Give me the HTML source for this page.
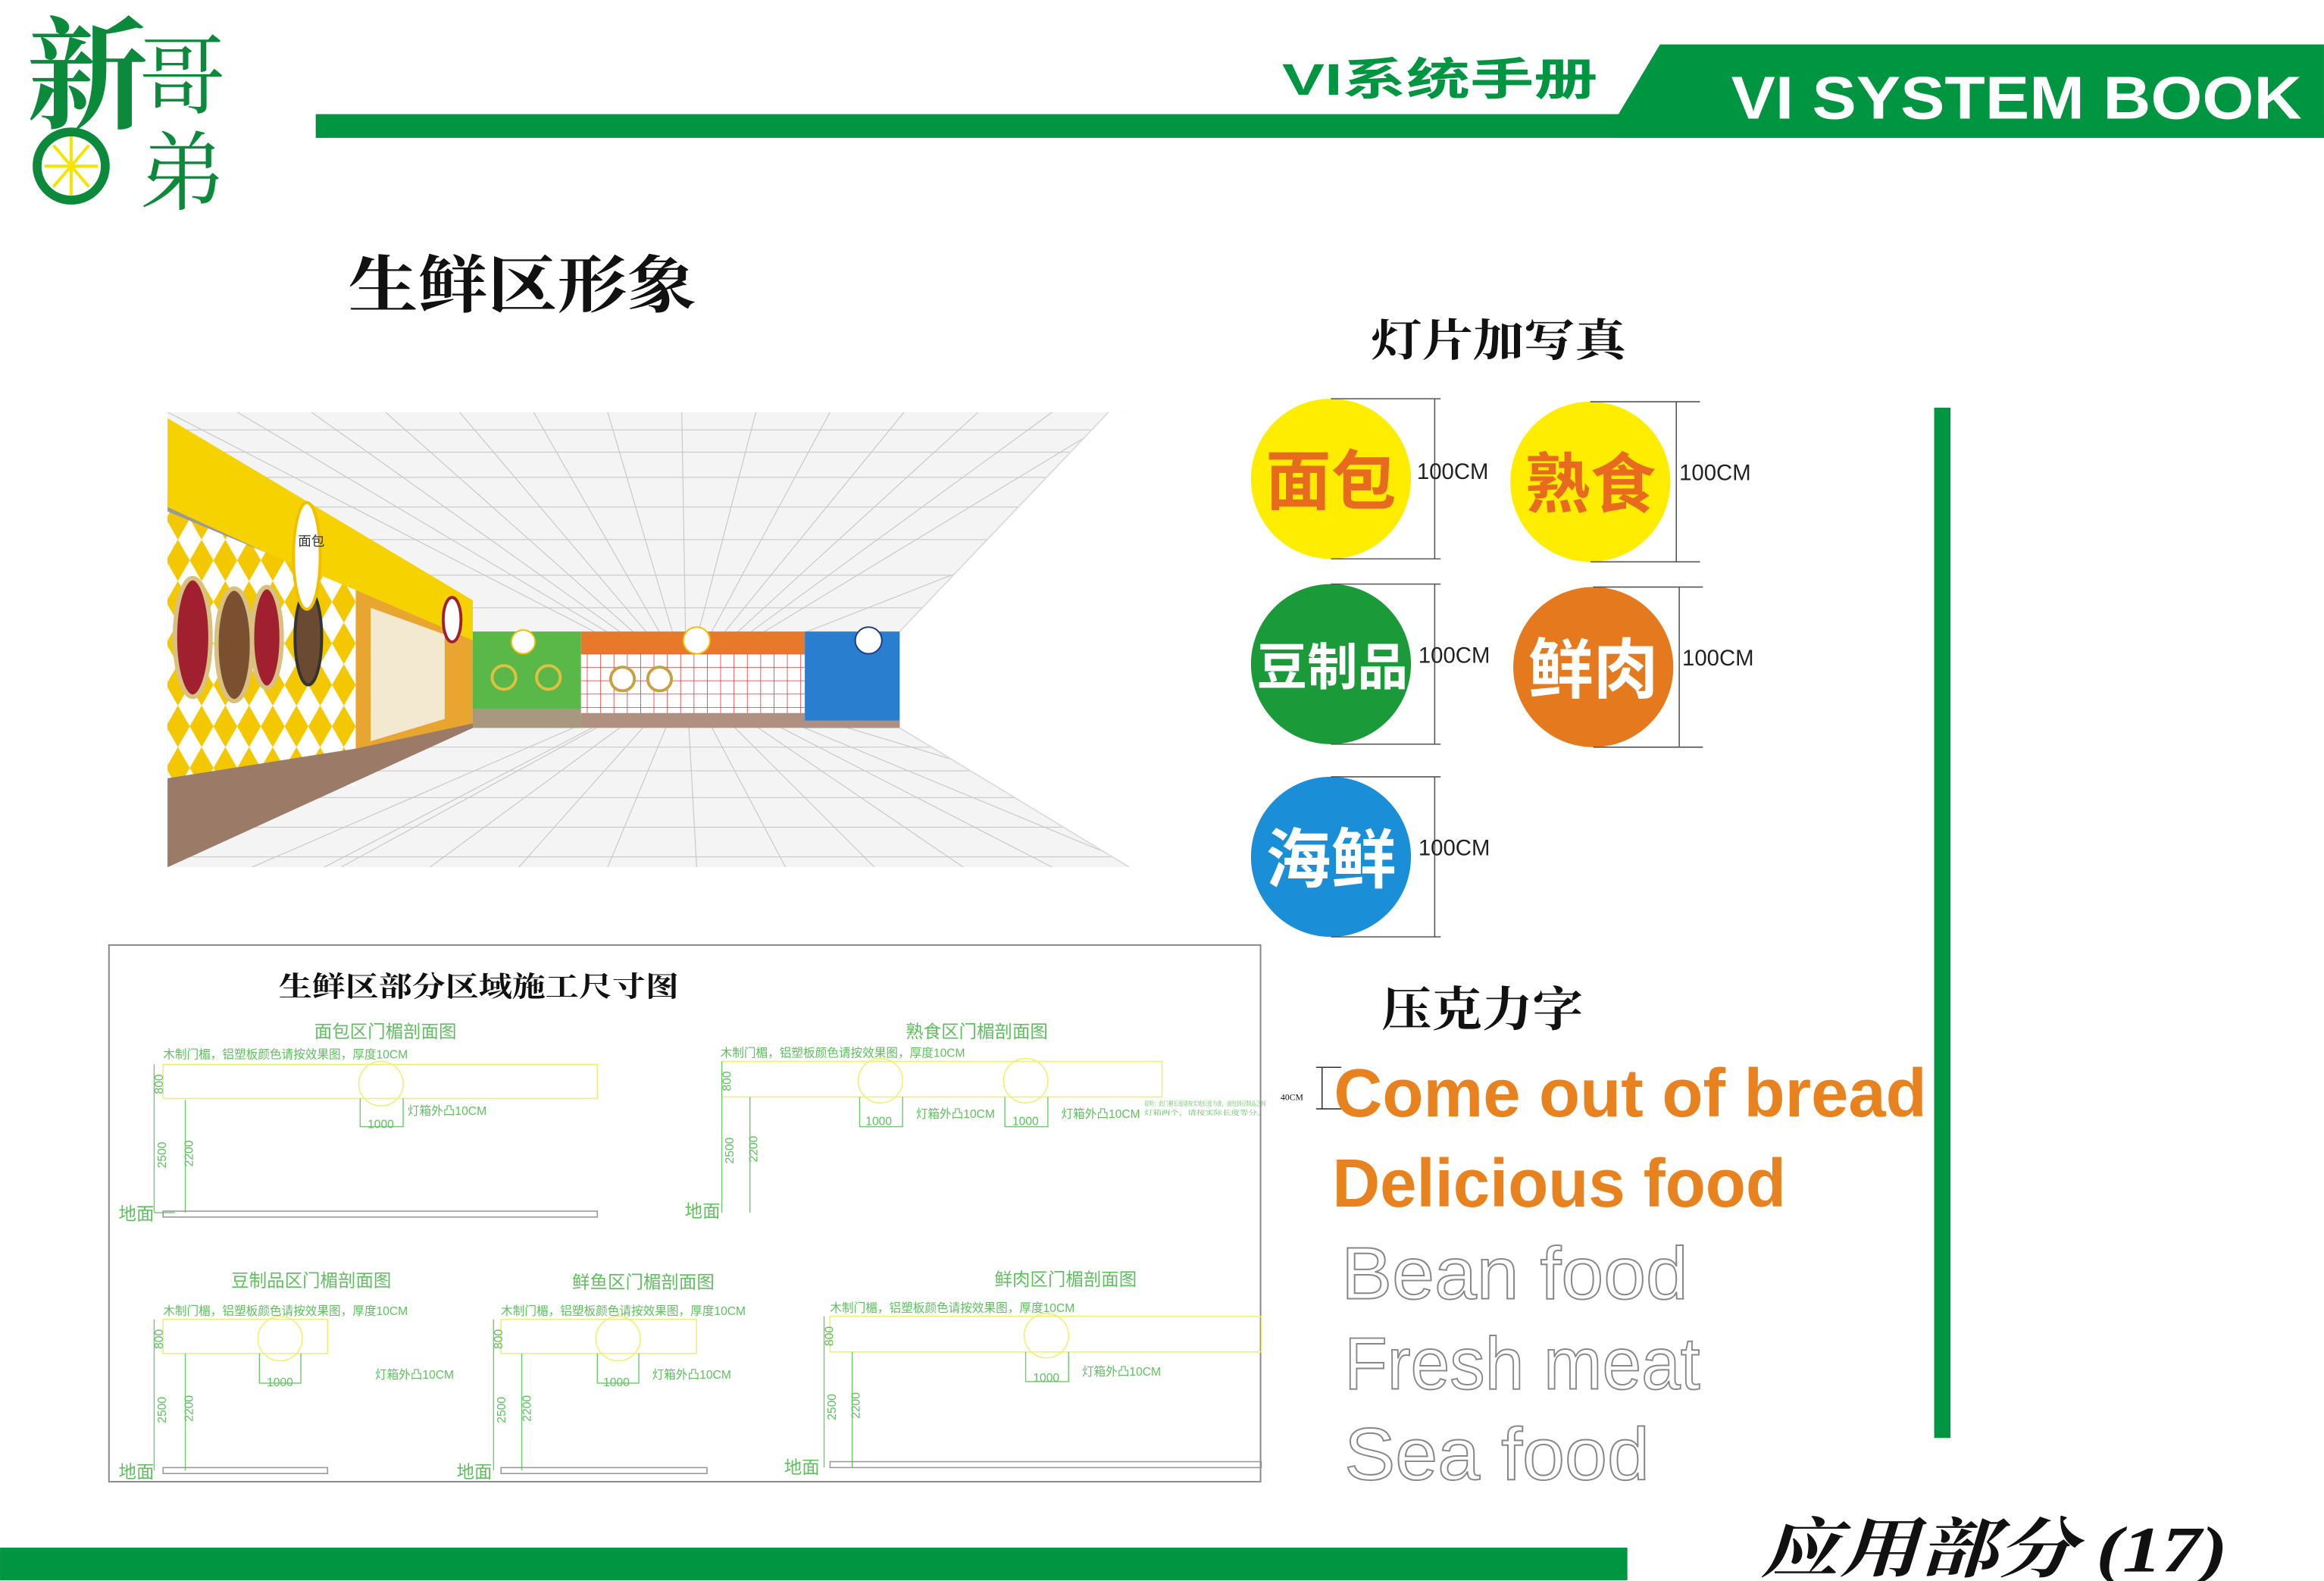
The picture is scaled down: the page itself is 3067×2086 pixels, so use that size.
<!DOCTYPE html>
<html><head><meta charset="utf-8"><style>
html,body{margin:0;padding:0;background:#fff;}
svg{display:block;}
text{font-family:"Liberation Sans","Noto Sans CJK SC",sans-serif;}
.serif{font-family:"Liberation Serif","Noto Serif CJK SC",serif;}
.g{fill:#5fbf5f;font-family:"Liberation Serif","Noto Serif CJK SC",serif;}
</style></head><body>
<svg width="3067" height="2086" viewBox="0 0 1568 1066.5" xmlns="http://www.w3.org/2000/svg">
<defs>
<pattern id="dia" width="16" height="28" patternUnits="userSpaceOnUse"><rect width="16" height="28" fill="#fff"/><polygon points="8,0 16,14 8,28 0,14" fill="#f3c800"/></pattern>
<pattern id="grd" width="9" height="9" patternUnits="userSpaceOnUse"><rect width="9" height="9" fill="#fff"/><path d="M0 0H9M0 0V9" stroke="#e03030" stroke-width="0.8"/></pattern>
<clipPath id="scene"><rect x="113" y="278" width="649" height="307"/></clipPath>
</defs>
<!-- logo -->
<text x="18" y="80" font-size="82" font-weight="bold" fill="#0a8a3a" class="serif">新</text>
<text x="94" y="72" font-size="58" fill="#0a8a3a" class="serif">哥</text>
<text x="94" y="137" font-size="58" fill="#0a8a3a" class="serif">弟</text>
<circle cx="48" cy="112" r="23" fill="#fff" stroke="#0a8a3a" stroke-width="6"/>
<path d="M48 92V132M30 112H66M36 98L60 126M60 98L36 126" stroke="#f5e400" stroke-width="2"/>
<!-- header -->
<rect x="213" y="77" width="1355" height="16" fill="#009540"/>
<polygon points="1120,30 1568,30 1568,93 1092,93 1092,77" fill="#009540"/>
<text x="865" y="64" font-size="30" font-weight="bold" fill="#009540" textLength="213" lengthAdjust="spacingAndGlyphs">VI系统手册</text>
<text x="1168" y="80" font-size="41" font-weight="bold" fill="#fff" textLength="385" lengthAdjust="spacingAndGlyphs">VI SYSTEM BOOK</text>
<text x="235" y="207" font-size="42" font-weight="bold" fill="#111" class="serif" textLength="235" lengthAdjust="spacingAndGlyphs">生鲜区形象</text>
<text x="925" y="240" font-size="30" font-weight="bold" fill="#111" class="serif" textLength="172" lengthAdjust="spacingAndGlyphs">灯片加写真</text>
<!-- scene -->
<g clip-path="url(#scene)">
<rect x="113" y="278" width="649" height="307" fill="#f4f4f4"/>
<g stroke="#c8c8c8" stroke-width="0.6">
<path d="M463 458L113 278M463 458L160 278M463 458L210 278M463 458L260 278M463 458L310 278M463 458L360 278M463 458L410 278M463 458L460 278M463 458L510 278M463 458L560 278M463 458L610 278M463 458L660 278M463 458L710 278M463 458L760 278M463 458L790 330"/>
<path d="M463 458L113 640M463 458L170 585M463 458L230 585M463 458L290 585M463 458L350 585M463 458L410 585M463 458L470 585M463 458L530 585M463 458L590 585M463 458L650 585M463 458L710 585M463 458L770 585M463 458L800 560"/>
<path d="M113 290H760M113 305H760M113 322H760M113 342H760M113 364H760M113 388H760M113 410H760M113 504H760M113 520H760M113 538H760M113 558H760M113 578H760"/>
</g>
<polygon points="748,278 800,278 800,600 762,585 607,491 607,426" fill="#fff"/>
<path d="M748 278L607 426M607 491L762 585" stroke="#ddd"/>
<!-- left wall -->
<polygon points="113,330 319,426 319,491 113,585" fill="#9a9a9a"/>
<polygon points="113,282 319,405 319,437 113,342" fill="#f6d200"/>
<polygon points="113,345 240,398 240,530 113,530" fill="url(#dia)"/>
<polygon points="240,398 319,432 319,488 240,515" fill="#e8a530"/>
<polygon points="250,410 300,428 300,485 250,500" fill="#f2e9d0"/>
<polygon points="113,525 240,505 319,488 319,491 113,585" fill="#9b7a68"/>
<ellipse cx="130" cy="430" rx="12" ry="40" fill="#a02030" stroke="#d8c080" stroke-width="3"/>
<ellipse cx="158" cy="435" rx="12" ry="38" fill="#7a5030" stroke="#d8c080" stroke-width="3"/>
<ellipse cx="180" cy="430" rx="10" ry="34" fill="#a02030" stroke="#d8c080" stroke-width="3"/>
<ellipse cx="208" cy="430" rx="9" ry="32" fill="#6a4a30" stroke="#333" stroke-width="2"/>
<ellipse cx="207" cy="375" rx="9" ry="36" fill="#fff" stroke="#f0c000" stroke-width="2"/>
<text x="201" y="368" font-size="9" fill="#333">面包</text>
<ellipse cx="305" cy="418" rx="6" ry="15" fill="#fff" stroke="#a02030" stroke-width="2"/>
<!-- back wall -->
<rect x="319" y="426" width="73" height="65" fill="#5ab848"/>
<rect x="319" y="478" width="73" height="13" fill="#a89880"/>
<rect x="392" y="426" width="151" height="15" fill="#e8782a"/>
<rect x="392" y="441" width="151" height="42" fill="url(#grd)"/>
<rect x="392" y="481" width="151" height="10" fill="#b09080"/>
<rect x="543" y="426" width="64" height="65" fill="#2a7ed0"/>
<rect x="543" y="486" width="64" height="5" fill="#b09080"/>
<circle cx="353" cy="433" r="8" fill="#fff" stroke="#f0c000"/>
<circle cx="470" cy="432" r="9" fill="#fff" stroke="#f0c000"/>
<circle cx="586" cy="432" r="9" fill="#fff" stroke="#1a3a8a"/>
<circle cx="340" cy="457" r="8" fill="#5ab848" stroke="#e0c040" stroke-width="2"/>
<circle cx="370" cy="457" r="8" fill="#5ab848" stroke="#e0c040" stroke-width="2"/>
<circle cx="420" cy="458" r="8" fill="#fff" stroke="#c8a040" stroke-width="2"/>
<circle cx="445" cy="458" r="8" fill="#fff" stroke="#c8a040" stroke-width="2"/>
</g>
<!-- circles -->
<g font-weight="bold">
<circle cx="898" cy="323" r="54" fill="#ffed00"/>
<text x="898" y="340" font-size="44" fill="#e86a1e" text-anchor="middle">面包</text>
<circle cx="1073" cy="325" r="54" fill="#ffed00"/>
<text x="1073" y="342" font-size="44" fill="#e86a1e" text-anchor="middle">熟食</text>
<circle cx="898" cy="448" r="54" fill="#1a9a38"/>
<text x="899" y="462" font-size="34" fill="#fff" text-anchor="middle">豆制品</text>
<circle cx="1075" cy="450" r="54" fill="#e5791e"/>
<text x="1075" y="467" font-size="44" fill="#fff" text-anchor="middle">鲜肉</text>
<circle cx="898" cy="578" r="54" fill="#1a8fd8"/>
<text x="898" y="595" font-size="44" fill="#fff" text-anchor="middle">海鲜</text>
</g>
<g stroke="#555" stroke-width="0.8" fill="none">
<path d="M898 269H972M898 377H972M968 269V377M1073 271H1147M1073 379H1147M1131 271V379M898 394H972M898 502H972M968 394V502M1075 396H1149M1075 504H1149M1133 396V504M898 524H972M898 632H972M968 524V632"/>
</g>
<g font-size="15" fill="#222">
<text x="956" y="323">100CM</text><text x="1133" y="324">100CM</text>
<text x="957" y="447">100CM</text><text x="1135" y="449">100CM</text>
<text x="957" y="577">100CM</text>
</g>
<rect x="1305" y="275" width="11" height="695" fill="#009540"/>
<!-- acrylic -->
<text x="932" y="692" font-size="32" font-weight="bold" fill="#111" class="serif" textLength="136" lengthAdjust="spacingAndGlyphs">压克力字</text>
<path d="M888 720H905M888 748H905M892 720V748" stroke="#333" stroke-width="0.8"/>
<text x="864" y="742" font-size="6" fill="#111" class="serif">40CM</text>
<text x="900" y="753" font-size="46" font-weight="bold" fill="#e8821e" textLength="400" lengthAdjust="spacingAndGlyphs">Come out of bread</text>
<text x="899" y="814" font-size="46" font-weight="bold" fill="#e8821e" textLength="306" lengthAdjust="spacingAndGlyphs">Delicious food</text>
<g font-size="50" fill="#fff" stroke="#888" stroke-width="1" style="font-family:'DejaVu Sans Mono','Liberation Mono',monospace">
<text x="905" y="876" textLength="234" lengthAdjust="spacingAndGlyphs">Bean food</text>
<text x="907" y="937" textLength="240" lengthAdjust="spacingAndGlyphs">Fresh meat</text>
<text x="907" y="998" textLength="206" lengthAdjust="spacingAndGlyphs">Sea food</text>
</g>
<!-- drawing box -->
<rect x="73.5" y="637.5" width="777" height="362" fill="none" stroke="#888" stroke-width="1"/>
<text x="188" y="672" font-size="19" font-weight="bold" fill="#111" class="serif" textLength="270" lengthAdjust="spacingAndGlyphs">生鲜区部分区域施工尺寸图</text>
<g font-size="12" class="g" fill="#5fbf5f">
<text x="260" y="700" text-anchor="middle">面包区门楣剖面图</text>
<text x="659" y="700" text-anchor="middle">熟食区门楣剖面图</text>
<text x="210" y="868" text-anchor="middle">豆制品区门楣剖面图</text>
<text x="434" y="869" text-anchor="middle">鲜鱼区门楣剖面图</text>
<text x="719" y="867" text-anchor="middle">鲜肉区门楣剖面图</text>
</g>
<g font-size="8" class="g">
<text x="110" y="714">木制门楣，铝塑板颜色请按效果图，厚度10CM</text>
<text x="486" y="713">木制门楣，铝塑板颜色请按效果图，厚度10CM</text>
<text x="110" y="887">木制门楣，铝塑板颜色请按效果图，厚度10CM</text>
<text x="338" y="887">木制门楣，铝塑板颜色请按效果图，厚度10CM</text>
<text x="560" y="885">木制门楣，铝塑板颜色请按效果图，厚度10CM</text>
<text x="275" y="752">灯箱外凸10CM</text>
<text x="618" y="754">灯箱外凸10CM</text>
<text x="716" y="754">灯箱外凸10CM</text>
<text x="253" y="930">灯箱外凸10CM</text>
<text x="440" y="930">灯箱外凸10CM</text>
<text x="730" y="928">灯箱外凸10CM</text>
<text x="248" y="761">1000</text><text x="584" y="759">1000</text><text x="683" y="759">1000</text>
<text x="180" y="935">1000</text><text x="407" y="935">1000</text><text x="697" y="932">1000</text>
</g>
<g font-size="12" class="g">
<text x="80" y="823">地面</text><text x="462" y="821">地面</text>
<text x="80" y="997">地面</text><text x="308" y="997">地面</text><text x="529" y="994">地面</text>
</g>
<g fill="none" stroke="#eef070" stroke-width="0.8">
<rect x="110" y="718" width="293" height="23"/><circle cx="257" cy="731" r="15"/>
<rect x="487" y="716" width="297" height="24"/><circle cx="594" cy="729" r="15"/><circle cx="692" cy="729" r="15"/>
<rect x="110" y="890" width="111" height="23"/><circle cx="189" cy="903" r="15"/>
<rect x="338" y="890" width="132" height="23"/><circle cx="417" cy="903" r="15"/>
<rect x="560" y="888" width="291" height="24"/><circle cx="706" cy="901" r="15"/>
</g>
<g fill="none" stroke="#6cc86c" stroke-width="0.7">
<path d="M104 718V818M125 742V818M104 818H118M243 741V760H272V741M487 716V818M506 740V818M580 740V760H609V740M678 740V760H707V740M104 890V992M125 913V992M175 913V933H203V913M333 890V992M352 913V992M403 913V933H431V913M556 888V990M575 912V990M692 912V932H721V912"/>
</g>
<g fill="none" stroke="#999" stroke-width="0.8">
<rect x="110" y="817" width="293" height="4"/>
<rect x="110" y="990" width="111" height="4"/>
<rect x="338" y="990" width="139" height="4"/>
<rect x="560" y="986" width="291" height="4"/>
</g>
<g font-size="8" class="g" fill="#7fcf7f">
<text x="96" y="736" transform="rotate(-90 104 730)">800</text><text x="96" y="788" transform="rotate(-90 104 780)">2500</text><text x="117" y="790" transform="rotate(-90 122 782)">2200</text>
<text x="479" y="734" transform="rotate(-90 487 728)">800</text><text x="479" y="785" transform="rotate(-90 487 777)">2500</text><text x="498" y="787" transform="rotate(-90 503 779)">2200</text>
<text x="96" y="908" transform="rotate(-90 104 902)">800</text><text x="96" y="960" transform="rotate(-90 104 952)">2500</text><text x="117" y="962" transform="rotate(-90 122 954)">2200</text>
<text x="325" y="908" transform="rotate(-90 333 902)">800</text><text x="325" y="960" transform="rotate(-90 333 952)">2500</text><text x="345" y="962" transform="rotate(-90 350 954)">2200</text>
<text x="548" y="906" transform="rotate(-90 556 900)">800</text><text x="548" y="958" transform="rotate(-90 556 950)">2500</text><text x="567" y="960" transform="rotate(-90 572 952)">2200</text>
</g>
<text x="772" y="746" font-size="4.5" class="g" textLength="82" lengthAdjust="spacingAndGlyphs">说明：此门楣长度请按实地长度为准，面包到豆制品之间</text>
<text x="772" y="752" font-size="4.5" class="g" textLength="82" lengthAdjust="spacingAndGlyphs">灯箱两个，请按实际长度等分。</text>
<!-- footer -->
<rect x="0" y="1044" width="1098" height="22" fill="#009540"/>
<text x="1188" y="1060" font-size="44" font-style="italic" font-weight="bold" fill="#111" class="serif" textLength="315" lengthAdjust="spacingAndGlyphs">应用部分 (17)</text>
</svg>
</body></html>
